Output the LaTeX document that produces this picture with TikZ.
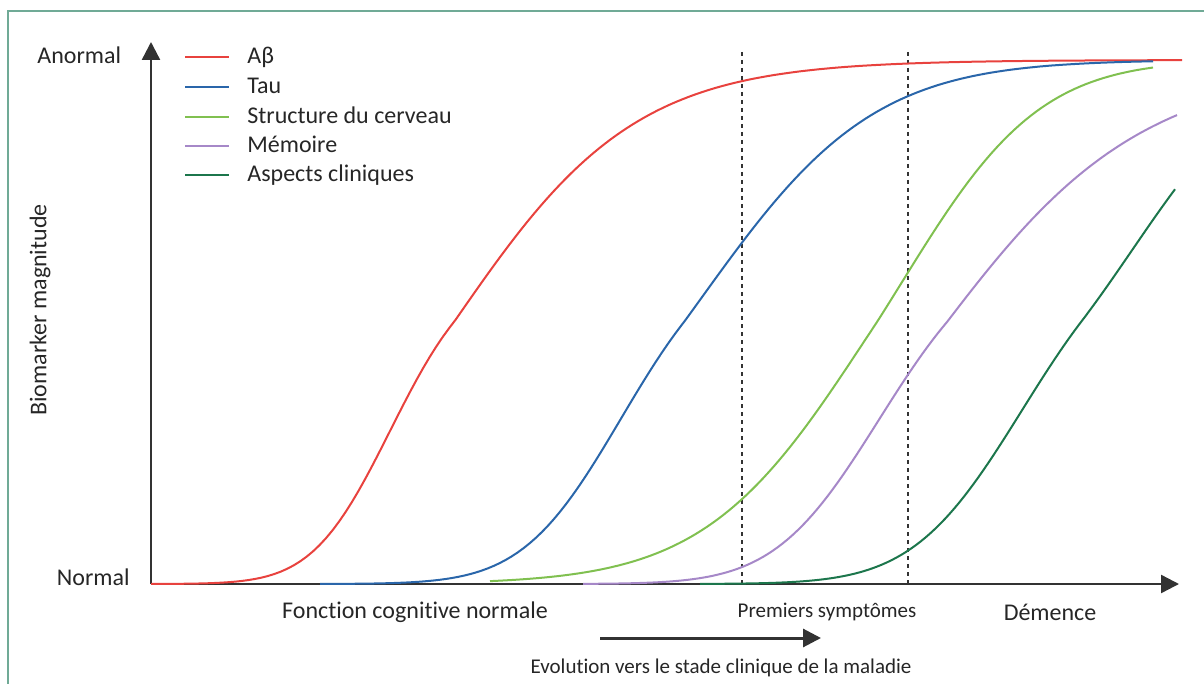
\documentclass[tikz,border=0pt]{standalone}
\usepackage{fontspec}
\setmainfont{Carlito}[Ligatures={NoCommon}]
\usetikzlibrary{arrows.meta}
\definecolor{framegreen}{RGB}{112,170,150}
\definecolor{abetared}{RGB}{232,66,62}
\definecolor{taublue}{RGB}{42,102,170}
\definecolor{brainlime}{RGB}{128,192,80}
\definecolor{memlilac}{RGB}{166,136,200}
\definecolor{clindark}{RGB}{28,118,76}
\definecolor{axisgray}{RGB}{50,50,50}
\tikzset{
  axis/.style={axisgray, line width=1.2pt, -{Triangle[length=9pt,width=9pt]}},
  curve/.style={line width=1pt},
  symptom/.style={black!80, line width=1.1pt, dash pattern=on 2pt off 2pt},
  biglabel/.style={font=\fontsize{12}{14}\selectfont, text=black!85, inner sep=0pt},
  smalllabel/.style={font=\fontsize{10.5}{12}\selectfont, text=black!85, inner sep=0pt},
}
\begin{document}
\begin{tikzpicture}[x=0.5pt,y=-0.5pt,
  declare function={
    lgt(\u,\a,\b,\c,\d) = ifthenelse(\u<0, \u*(\a+\b*abs(\u)), \u*(\c+\d*abs(\u)));
    bio(\p,\m,\a,\b,\c,\d) = 584-524/(1+exp(-max(-9,min(9,lgt((\p-\m)/100,\a,\b,\c,\d)))));
  }]
\useasboundingbox (0,0) rectangle (1204,684);
\coordinate (O) at (151,584);
\coordinate (ytop) at (151,42);
\coordinate (xend) at (1179,584);
\coordinate (evs) at (600,638);
\coordinate (eve) at (821,638);
% frame
\draw[framegreen, line width=1pt] (8,684) -- (8,11) -- (1204,11);
% axes
\draw[axis] (O) -- (ytop);
\draw[axis] (O) -- (xend);
\draw[symptom] (742,52) -- (742,584);
\draw[symptom] (908,52) -- (908,584);
% curves
\draw[curve, abetared, domain=151:1182, samples=160] plot ({\x}, {bio(\x,454,0.936,0.70,1.10,0)});
\draw[curve, taublue, domain=320:1153, samples=140] plot ({\x}, {bio(\x,684,0.97,0.41,1.05,0.05)});
\draw[curve, brainlime, domain=490:1153, samples=120] plot ({\x}, {bio(\x,877,1.15,0.05,1.2,0.12)});
\draw[curve, memlilac, domain=583:1177, samples=120] plot ({\x}, {bio(\x,947,0.90,0.37,1.0,-0.03)});
\draw[curve, clindark, domain=700:1175, samples=100] plot ({\x}, {bio(\x,1081,1.0,0.32,1.0,0.2)});
% legend
\foreach \yy/\cc/\lab [count=\i] in {64/abetared/Aβ, 94/taublue/Tau, 124/brainlime/Structure du cerveau, 153/memlilac/Mémoire, 182/clindark/Aspects cliniques}{
  \draw[curve, \cc] (185,\yy-7) -- (229,\yy-7);
  \node[biglabel, anchor=base west] (leg\i) at (247,\yy) {\lab};
}
% labels
\node[biglabel, anchor=base west] (abn) at (37,64) {Anormal};
\node[biglabel, anchor=base east] (nrm) at (130,585) {Normal};
\node[biglabel, rotate=90] (ylab) at (40,310) {Biomarker magnitude};
\node[biglabel, anchor=base] (fcn) at (415,618) {Fonction cognitive normale};
\node[smalllabel, anchor=base] (sym) at (827,617) {Premiers symptômes};
\node[biglabel, anchor=base] (dem) at (1050,620) {Démence};
\draw[axis, line width=1.5pt] (evs) -- (eve);
\node[smalllabel, anchor=base] (evo) at (721,673) {Evolution vers le stade clinique de la maladie};
\end{tikzpicture}
\end{document}
